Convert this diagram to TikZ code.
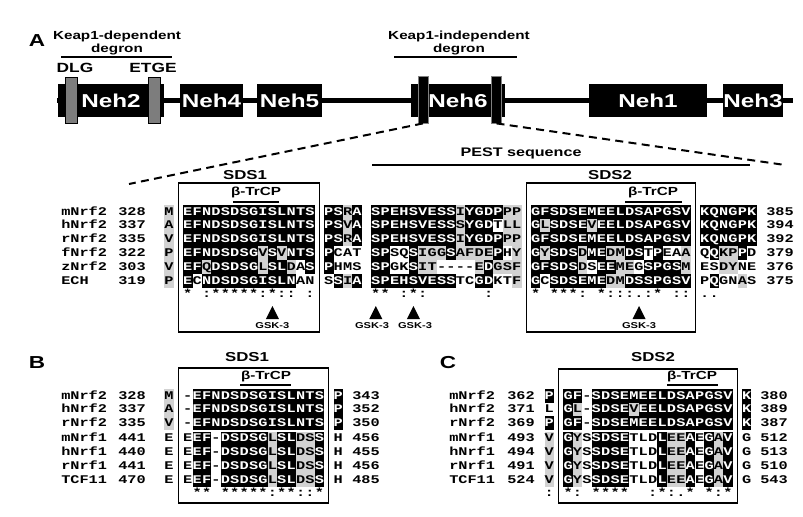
\documentclass[tikz,border=0pt]{standalone}
\usepackage{fontspec}
\setmainfont{Liberation Sans}[FakeStretch=1.3]
\setmonofont{Liberation Mono}[FakeStretch=1.3]
\usepackage{tikz}
\usetikzlibrary{positioning}

\definecolor{shadegray}{RGB}{210,210,210}
\definecolor{degrongray}{RGB}{125,125,125}

\newcommand{\pxu}{0.75pt}
\newcommand{\seqfont}{\ttfamily\bfseries\fontsize{8.8}{10}\selectfont}

% alignment cells: b = black box, g = gray box, w = plain, residue 0 = empty column
\newcount\alncol
\newcommand{\alnput}[2]{%
  \if#10\else
  \if#2b\node[rescell, fill=black, text=white] (\alnid x\the\alncol) at ({\alnx+\the\alncol*9.4},\alny) {#1};%
  \else\if#2g\node[rescell, fill=shadegray] (\alnid x\the\alncol) at ({\alnx+\the\alncol*9.4},\alny) {#1};%
  \else\node[rescell] (\alnid x\the\alncol) at ({\alnx+\the\alncol*9.4},\alny) {#1};%
  \fi\fi\fi}
\def\alnnext#1#2\relax#3#4\relax{%
  \alnput{#1}{#3}\advance\alncol by 1\relax
  \ifx\relax#2\relax\else\alnnext#2\relax#4\relax\fi}
\def\alnconsnext#1#2\relax{%
  \alnput{#1}{w}\advance\alncol by 1\relax
  \ifx\relax#2\relax\else\alnconsnext#2\relax\fi}
\newcommand{\alnrow}[4]{\def\alnid{#1}\def\alny{#2}\alncol=0\relax\alnnext#3\relax#4\relax}
\newcommand{\alncons}[3]{\def\alnid{#1}\def\alny{#2}\alncol=0\relax\alnconsnext#3\relax}

\begin{document}
\begin{tikzpicture}[x=0.75pt, y=-0.75pt,
  rescell/.style={inner sep=0pt, minimum width=9.4*\pxu, minimum height=13.8*\pxu,
    text height=5pt, text depth=0pt, font=\seqfont},
  seqname/.style={anchor=west, inner sep=0pt, text height=5pt, text depth=0pt, font=\seqfont},
  dombox/.style={fill=black, text=white, inner sep=0pt, minimum height=33*\pxu,
    font=\bfseries\fontsize{14}{16}\selectfont},
  degbar/.style={fill=degrongray, draw=black, line width=0.6pt, inner sep=0pt,
    minimum width=12*\pxu, minimum height=46*\pxu},
  sdsbar/.style={fill=black, draw=gray, line width=0.6pt, inner sep=0pt,
    minimum width=10*\pxu, minimum height=47*\pxu},
  backbone/.style={line width=5*\pxu},
  dashcon/.style={dash pattern=on 6pt off 4pt, line width=1.5pt},
  barline/.style={line width=1.5pt},
  uline/.style={line width=1.1pt},
  sdsbox/.style={line width=0.9pt},
  panellabel/.style={font=\bfseries\fontsize{13}{15}\selectfont, inner sep=0pt},
  deglabel/.style={font=\bfseries\fontsize{8.8}{8}\selectfont, align=center, inner sep=0pt},
  motif/.style={font=\bfseries\fontsize{10}{12}\selectfont, inner sep=0pt},
  sdstitle/.style={font=\bfseries\fontsize{9.7}{12}\selectfont, inner sep=0pt},
  trcp/.style={font=\bfseries\fontsize{8.8}{10}\selectfont, inner sep=0pt},
  gsklabel/.style={font=\bfseries\fontsize{6.4}{7}\selectfont, inner sep=0pt}]

  \useasboundingbox (0,0) rectangle (803,517);

  % Panel A -- domain map
  \node[panellabel] (labA) at (37,41) {A};
  \coordinate (nterm) at (57,100.5);
  \coordinate (cterm) at (793,100.5);
  \draw[backbone] (nterm) -- (cterm);
  \node[dombox, minimum width=106*\pxu] (neh2) at (111,100.5) {Neh2};
  \node[dombox, minimum width=63*\pxu] (neh4) at (211.5,100.5) {Neh4};
  \node[dombox, minimum width=65*\pxu] (neh5) at (289.5,100.5) {Neh5};
  \node[dombox, minimum width=94*\pxu] (neh6) at (458,100.5) {Neh6};
  \node[dombox, minimum width=118*\pxu] (neh1) at (648,100.5) {Neh1};
  \node[dombox, minimum width=60*\pxu] (neh3) at (753,100.5) {Neh3};
  % degron motifs
  \node[degbar] (dlg) at (71,100) {};
  \node[degbar] (etge) at (154,100) {};
  \node[motif] (dlgtext) at (75,68) {DLG};
  \node[motif] (etgetext) at (153,68) {ETGE};
  \node[sdsbar] (sdsbar1) at (423,99.5) {};
  \node[sdsbar] (sdsbar2) at (496.5,99.5) {};
  % degron brackets
  \node[deglabel] (keapdep) at (117,43) {Keap1-dependent\\degron};
  \draw[barline] (61,57) -- (172,57);
  \node[deglabel] (keapind) at (459,43) {Keap1-independent\\degron};
  \draw[barline] (394,57) -- (517,57);

  % zoom lines to the alignment
  \coordinate (sds1end) at (129,184);
  \coordinate (sds2end) at (785,165);
  \draw[dashcon] (sdsbar1.south) -- (sds1end);
  \draw[dashcon] (sdsbar2.south) -- (sds2end);
  \node[sdstitle, font=\bfseries\fontsize{9.3}{10}\selectfont] (pest) at (521,153) {PEST sequence};
  \draw[barline] (372,165) -- (750,165);

  % Panel A -- alignment boxes
  \draw[sdsbox] (178.4,183) rectangle (319.4,332);
  \draw[sdsbox] (526.2,183) rectangle (695.4,332);
  \node[sdstitle] (sds1A) at (245,175) {SDS1};
  \node[sdstitle] (sds2A) at (610,175) {SDS2};
  \node[trcp] (trcpA1) at (256,192) {β-TrCP};
  \draw[uline] (233,202) -- (279,202);
  \node[trcp] (trcpA2) at (653,192) {β-TrCP};
  \draw[uline] (625,202) -- (682,202);

  % Panel A -- sequences
  \def\alnx{169}
  \alnrow{Aa}{211.7}{M 0 EFNDSDSGISLNTS 0 PSRA 0 SPEHSVESSIYGDPPP 0 GFSDSEMEELDSAPGSV 0 KQNGPK}
    {g 0 bbbbbbbbbbbbbb 0 bbgb 0 bbbbbbbbbgbbbbgg 0 bbbbbbbbbbbbbbbbb 0 bbbbbb}
  \alnrow{Ab}{225.5}{A 0 EFNDSDSGISLNTS 0 PSVA 0 SPEHSVESSSYGDTLL 0 GLSDSEVEELDSAPGSV 0 KQNGPK}
    {g 0 bbbbbbbbbbbbbb 0 bbgb 0 bbbbbbbbbgbbbwgg 0 bgbbbbgbbbbbbbbbb 0 bbbbbb}
  \alnrow{Ac}{239.3}{V 0 EFNDSDSGISLNTS 0 PSRA 0 SPEHSVESSIYGDPPP 0 GFSDSEMEELDSAPGSV 0 KQNGPK}
    {g 0 bbbbbbbbbbbbbb 0 bbgb 0 bbbbbbbbbgbbbbgg 0 bbbbbbbbbbbbbbbbb 0 bbbbbb}
  \alnrow{Ad}{253.1}{P 0 EFNDSDSGVSVNTS 0 PCAT 0 SPSQSIGGSAFDEPHY 0 GYSDSDMEDMDSTPEAA 0 QQKPPD}
    {g 0 bbbbbbbbgbgbbb 0 bwww 0 bbwwbgggbggggbwg 0 bgbbbgbbggbbwbwwg 0 wbggbw}
  \alnrow{Ae}{266.9}{V 0 EFQDSDSGLSLDAS 0 PHMS 0 SPGKSIT----EDGSF 0 GFSDSDSEEMEGSPGSM 0 ESDYNE}
    {g 0 bbgbbbbbgbbgwb 0 bwww 0 bbwwbggwwwwgbggg 0 bbbbbgwbbggwbbbbg 0 wwggww}
  \alnrow{Af}{280.7}{P 0 ECNDSDSGISLNAN 0 SSIA 0 SPEHSVESSTCGDKTF 0 GCSDSEMEDMDSSPGSV 0 PQGNAS}
    {g 0 bwbbbbbbbbbbww 0 wbgb 0 bbbbbbbbbwwbbwwg 0 bwbbbbbbggbbbbbbb 0 wbwwgw}
  \alncons{Acons}{294.5}{0 0 *0:*****:*::0: 0 0000 0 **0:*:000000:000 0 *0***:0*:::.:*0:: 0 ..0000}
  \node[seqname] (nAa) at (61,211.7) {mNrf2}; \node[seqname] (sAa) at (118,211.7) {328}; \node[seqname] (eAa) at (766,211.7) {385};
  \node[seqname] (nAb) at (61,225.5) {hNrf2}; \node[seqname] (sAb) at (118,225.5) {337}; \node[seqname] (eAb) at (766,225.5) {394};
  \node[seqname] (nAc) at (61,239.3) {rNrf2}; \node[seqname] (sAc) at (118,239.3) {335}; \node[seqname] (eAc) at (766,239.3) {392};
  \node[seqname] (nAd) at (61,253.1) {fNrf2}; \node[seqname] (sAd) at (118,253.1) {322}; \node[seqname] (eAd) at (766,253.1) {379};
  \node[seqname] (nAe) at (61,266.9) {zNrf2}; \node[seqname] (sAe) at (118,266.9) {303}; \node[seqname] (eAe) at (766,266.9) {376};
  \node[seqname] (nAf) at (61,280.7) {ECH};   \node[seqname] (sAf) at (118,280.7) {319}; \node[seqname] (eAf) at (766,280.7) {375};

  % GSK-3 sites
  \fill (Aconsx11 |- 0,306) -- ++(-6.5,13) -- ++(13,0) -- cycle;
  \fill (Aconsx22 |- 0,306) -- ++(-6.5,13) -- ++(13,0) -- cycle;
  \fill (Aconsx26 |- 0,306) -- ++(-6.5,13) -- ++(13,0) -- cycle;
  \fill (Aconsx50 |- 0,306) -- ++(-6.5,13) -- ++(13,0) -- cycle;
  \node[gsklabel] (gsk1) at (Aconsx11 |- 0,326) {GSK-3};
  \node[gsklabel] (gsk2) at (372,326) {GSK-3};
  \node[gsklabel] (gsk3) at (415,326) {GSK-3};
  \node[gsklabel] (gsk4) at (Aconsx50 |- 0,326) {GSK-3};

  % Panel B -- SDS1 in Nrf1 / TCF11
  \node[panellabel] (labB) at (37,363) {B};
  \draw[sdsbox] (178.4,368) rectangle (328.8,503);
  \node[sdstitle] (sds1B) at (247,357) {SDS1};
  \node[trcp] (trcpB) at (266,376) {β-TrCP};
  \draw[uline] (240,385) -- (291,385);
  \def\alnx{169}
  \alnrow{Ba}{396}{M 0 -EFNDSDSGISLNTS 0 P}{g 0 wbbbbbbbbbbbbbb 0 b}
  \alnrow{Bb}{409.5}{A 0 -EFNDSDSGISLNTS 0 P}{g 0 wbbbbbbbbbbbbbb 0 b}
  \alnrow{Bc}{423}{V 0 -EFNDSDSGISLNTS 0 P}{g 0 wbbbbbbbbbbbbbb 0 b}
  \alnrow{Bd}{438.5}{E 0 EEF-DSDSGLSLDSS 0 H}{w 0 wbbwbbbbbgbbggb 0 w}
  \alnrow{Be}{452.3}{E 0 EEF-DSDSGLSLDSS 0 H}{w 0 wbbwbbbbbgbbggb 0 w}
  \alnrow{Bf}{466}{E 0 EEF-DSDSGLSLDSS 0 H}{w 0 wbbwbbbbbgbbggb 0 w}
  \alnrow{Bg}{479.7}{E 0 EEF-DSDSGLSLDSS 0 H}{w 0 wbbwbbbbbgbbggb 0 w}
  \alncons{Bcons}{493}{0 0 0**0*****:**::*}
  \node[seqname] (nBa) at (61,396)   {mNrf2}; \node[seqname] (sBa) at (118,396)   {328}; \node[seqname] (eBa) at (352,396)   {343};
  \node[seqname] (nBb) at (61,409.5) {hNrf2}; \node[seqname] (sBb) at (118,409.5) {337}; \node[seqname] (eBb) at (352,409.5) {352};
  \node[seqname] (nBc) at (61,423)   {rNrf2}; \node[seqname] (sBc) at (118,423)   {335}; \node[seqname] (eBc) at (352,423)   {350};
  \node[seqname] (nBd) at (61,438.5) {mNrf1}; \node[seqname] (sBd) at (118,438.5) {441}; \node[seqname] (eBd) at (352,438.5) {456};
  \node[seqname] (nBe) at (61,452.3) {hNrf1}; \node[seqname] (sBe) at (118,452.3) {440}; \node[seqname] (eBe) at (352,452.3) {455};
  \node[seqname] (nBf) at (61,466)   {rNrf1}; \node[seqname] (sBf) at (118,466)   {441}; \node[seqname] (eBf) at (352,466)   {456};
  \node[seqname] (nBg) at (61,479.7) {TCF11}; \node[seqname] (sBg) at (118,479.7) {470}; \node[seqname] (eBg) at (352,479.7) {485};

  % Panel C -- SDS2 in Nrf1 / TCF11
  \node[panellabel] (labC) at (448,363) {C};
  \draw[sdsbox] (558.7,369) rectangle (737.3,503);
  \node[sdstitle] (sds2C) at (653,357) {SDS2};
  \node[trcp] (trcpC) at (692,376) {β-TrCP};
  \draw[uline] (667,385) -- (718,385);
  \def\alnx{549.3}
  \alnrow{Ca}{396}{P 0 GF-SDSEMEELDSAPGSV 0 K}{b 0 bbwbbbbbbbbbbbbbbb 0 b}
  \alnrow{Cb}{409.5}{L 0 GL-SDSEVEELDSAPGSV 0 K}{w 0 bgwbbbbgbbbbbbbbbb 0 b}
  \alnrow{Cc}{423}{P 0 GF-SDSEMEELDSAPGSV 0 K}{b 0 bbwbbbbbbbbbbbbbbb 0 b}
  \alnrow{Cd}{438.5}{V 0 GYSSDSETLDLEEAEGAV 0 G}{g 0 bgwbbbbwwwbggbwbgb 0 w}
  \alnrow{Ce}{452.3}{V 0 GYSSDSETLDLEEAEGAV 0 G}{g 0 bgwbbbbwwwbggbwbgb 0 w}
  \alnrow{Cf}{466}{V 0 GYSSDSETLDLEEAEGAV 0 G}{g 0 bgwbbbbwwwbggbwbgb 0 w}
  \alnrow{Cg}{479.7}{V 0 GYSSDSETLDLEEAEGAV 0 G}{g 0 bgwbbbbwwwbggbwbgb 0 w}
  \alncons{Ccons}{493}{: 0 *:0****00:*:.*0*:*}
  \node[seqname] (nCa) at (449,396)   {mNrf2}; \node[seqname] (sCa) at (507,396)   {362}; \node[seqname] (eCa) at (760,396)   {380};
  \node[seqname] (nCb) at (449,409.5) {hNrf2}; \node[seqname] (sCb) at (507,409.5) {371}; \node[seqname] (eCb) at (760,409.5) {389};
  \node[seqname] (nCc) at (449,423)   {rNrf2}; \node[seqname] (sCc) at (507,423)   {369}; \node[seqname] (eCc) at (760,423)   {387};
  \node[seqname] (nCd) at (449,438.5) {mNrf1}; \node[seqname] (sCd) at (507,438.5) {493}; \node[seqname] (eCd) at (760,438.5) {512};
  \node[seqname] (nCe) at (449,452.3) {hNrf1}; \node[seqname] (sCe) at (507,452.3) {494}; \node[seqname] (eCe) at (760,452.3) {513};
  \node[seqname] (nCf) at (449,466)   {rNrf1}; \node[seqname] (sCf) at (507,466)   {491}; \node[seqname] (eCf) at (760,466)   {510};
  \node[seqname] (nCg) at (449,479.7) {TCF11}; \node[seqname] (sCg) at (507,479.7) {524}; \node[seqname] (eCg) at (760,479.7) {543};
\end{tikzpicture}
\end{document}
